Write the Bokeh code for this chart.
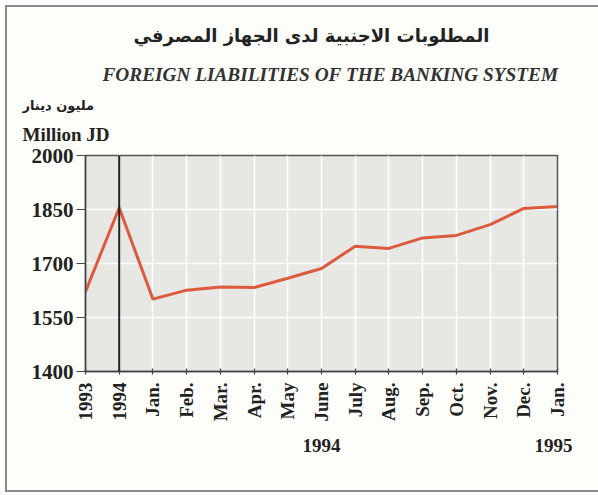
import math
from bokeh.plotting import figure
from bokeh.models import FixedTicker, Span, Title, Range1d, LinearAxis
from bokeh.embed import file_html
from bokeh.resources import INLINE

categories = ["1993", "1994", "Jan.", "Feb.", "Mar.", "Apr.", "May", "June",
              "July", "Aug.", "Sep.", "Oct.", "Nov.", "Dec.", "Jan."]
values = [1622, 1855, 1601, 1626, 1635, 1633, 1659, 1686, 1748, 1742,
          1771, 1778, 1808, 1853, 1858]
y_ticks = [1400, 1550, 1700, 1850, 2000]
year_labels = ["1994", "1995"]
year_label_pos = [7.0, 13.88]

title_ar = "المطلوبات الاجنبية لدى الجهاز المصرفي"
title_en = "FOREIGN LIABILITIES OF THE  BANKING SYSTEM"
unit_ar = "مليون دينار"
unit_en = "Million JD"

xs = list(range(len(categories)))

W, H = 593, 487
p = figure(width=W, height=H, output_backend="svg", toolbar_location=None,
           x_range=Range1d(0, len(categories) - 1), y_range=Range1d(1400, 2000),
           min_border_left=78, min_border_right=43, min_border_top=148,
           min_border_bottom=123)
p.styles = {"margin-left": "5px", "margin-top": "5px",
            "border-left": "2px solid #8a8a8a", "border-top": "2px solid #8a8a8a",
            "border-bottom": "2px solid #8a8a8a", "box-sizing": "border-box"}
p.background_fill_color = "#e7e7e3"
p.border_fill_color = "#fdfdf9"
p.outline_line_color = "#555555"
p.outline_line_width = 1.5

p.xaxis.ticker = FixedTicker(ticks=xs)
p.xaxis.major_label_overrides = {i: c for i, c in enumerate(categories)}
p.xaxis.major_label_orientation = math.pi / 2
p.yaxis.ticker = FixedTicker(ticks=y_ticks)

for ax in (p.xaxis, p.yaxis):
    ax.axis_line_color = "#444444"
    ax.axis_line_width = 1.5
    ax.major_tick_line_color = "#444444"
    ax.major_tick_line_width = 1.2
    ax.minor_tick_line_color = None
    ax.major_label_text_font = "Liberation Serif"
    ax.major_label_text_font_style = "bold"
    ax.major_label_text_color = "#222222"
p.xaxis.major_label_text_font_size = "19px"
p.yaxis.major_label_text_font_size = "21px"
p.xaxis.major_tick_in = 3
p.xaxis.major_tick_out = 3
p.yaxis.major_tick_in = 0
p.yaxis.major_tick_out = 9
p.xaxis.major_label_standoff = 8
p.yaxis.major_label_standoff = 3

# year labels under the month labels
year_axis = LinearAxis(ticker=FixedTicker(ticks=year_label_pos),
                       major_label_overrides={v: t for v, t in zip(year_label_pos, year_labels)},
                       axis_line_color=None, major_tick_line_color=None,
                       minor_tick_line_color=None, major_label_standoff=8,
                       major_label_text_font="Liberation Serif",
                       major_label_text_font_style="bold",
                       major_label_text_font_size="19px",
                       major_label_text_color="#222222")
p.add_layout(year_axis, "below")

p.xgrid.ticker = FixedTicker(ticks=xs)
p.xgrid.grid_line_color = "white"
p.xgrid.grid_line_width = 1.5
p.ygrid.grid_line_color = "white"
p.ygrid.grid_line_width = 1.5

p.add_layout(Span(location=1, dimension="height", line_color="#222222", line_width=2))
p.line(xs, values, line_color="#dd5a3e", line_width=3)

font = "Liberation Serif"
# titles stacked upward from the plot frame
p.add_layout(Title(text=unit_en, align="left", offset=-63, standoff=22,
                   text_font=font, text_font_style="bold", text_font_size="19px",
                   text_color="#222222"), "above")
p.add_layout(Title(text=unit_ar, align="left", offset=-63, standoff=-4,
                   text_font="DejaVu Sans", text_font_style="bold", text_font_size="13px",
                   text_color="#222222"), "above")
p.add_layout(Title(text=title_en, align="left", offset=17, standoff=25,
                   text_font=font, text_font_style="bold italic", text_font_size="19.3px",
                   text_color="#333333"), "above")
p.add_layout(Title(text=title_ar, align="left", offset=48, standoff=8,
                   text_font="DejaVu Sans", text_font_style="bold", text_font_size="18px",
                   text_color="#222222"), "above")

open("out.html", "w").write(file_html(p, INLINE))
